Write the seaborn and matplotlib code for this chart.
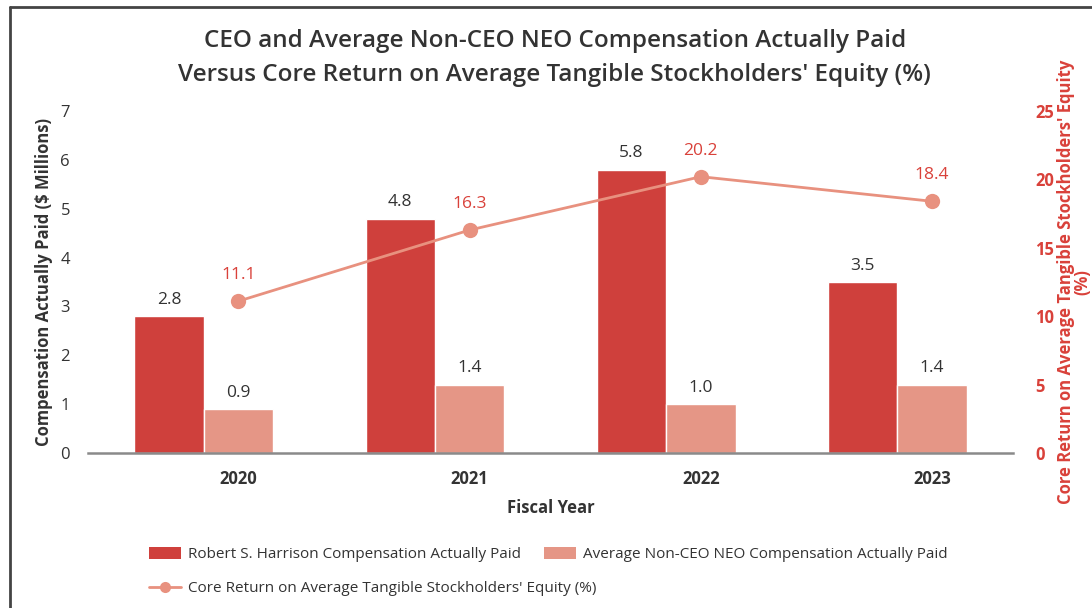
import numpy as np
import pandas as pd
import matplotlib
matplotlib.use("Agg")
import matplotlib.pyplot as plt
from matplotlib.lines import Line2D
from matplotlib.patches import Patch
import seaborn as sns

# Chart data
years = ["2020", "2021", "2022", "2023"]
ceo_cap = [2.8, 4.8, 5.8, 3.5]
neo_cap = [0.9, 1.4, 1.0, 1.4]
core_rotce = [11.1, 16.3, 20.2, 18.4]

ceo_name = "Robert S. Harrison Compensation Actually Paid"
neo_name = "Average Non-CEO NEO Compensation Actually Paid"
line_name = "Core Return on Average Tangible Stockholders' Equity (%)"

RED = "#cf403c"
SALMON = "#e59686"
LINE_C = "#e8917f"
TXT_RED = "#d9413a"
DARK = "#333333"

sns.set_theme(style="white")
plt.rcParams["font.family"] = ["Open Sans", "DejaVu Sans"]

df = pd.DataFrame({
    "Year": years * 2,
    "Value": ceo_cap + neo_cap,
    "Series": [ceo_name] * len(years) + [neo_name] * len(years),
})

fig = plt.figure(figsize=(10.92, 6.08), dpi=100)
ax = fig.add_axes([0.0806, 0.2549, 0.8471, 0.5625])

sns.barplot(data=df, x="Year", y="Value", hue="Series",
            hue_order=[ceo_name, neo_name], palette=[RED, SALMON],
            width=0.6, saturation=1, ax=ax, legend=False)

for cont in ax.containers:
    ax.bar_label(cont, fmt="%.1f", padding=6, color=DARK, fontsize=12.5)

ax.set_ylim(0, 7)
ax.set_xlim(-0.5, 3.5)
tick_pos = np.arange(len(years)) + 0.15
ax.set_xticks(tick_pos, years)
ax.set_yticks(range(0, 8))
ax.tick_params(axis="x", length=0, pad=12, labelsize=12, labelcolor=DARK)
ax.tick_params(axis="y", length=0, pad=13, labelsize=12, labelcolor=DARK)
for lbl in ax.get_xticklabels():
    lbl.set_fontweight("bold")
for s in ["top", "right", "left"]:
    ax.spines[s].set_visible(False)
ax.spines["bottom"].set_color("#8a8a8a")
ax.spines["bottom"].set_linewidth(1.8)
ax.set_ylabel("Compensation Actually Paid ($ Millions)", fontsize=12,
              fontweight="bold", color=DARK, labelpad=5)
ax.set_xlabel("Fiscal Year", fontsize=12, fontweight="bold", color=DARK,
              labelpad=8)

# Return on equity line on the secondary axis
ax2 = ax.twinx()
sns.lineplot(x=tick_pos, y=core_rotce, ax=ax2, color=LINE_C, linewidth=2,
             marker="o", markersize=11, markeredgewidth=0, legend=False)
for xp, v in zip(tick_pos, core_rotce):
    ax2.annotate(f"{v:.1f}", (xp, v), xytext=(0, 13), textcoords="offset points",
                 ha="center", va="bottom", color=TXT_RED, fontsize=12.5)
ax2.set_ylim(0, 25)
ax2.set_yticks(range(0, 26, 5))
ax2.tick_params(axis="y", length=0, pad=16, labelsize=12, labelcolor=TXT_RED)
for lbl in ax2.get_yticklabels():
    lbl.set_fontweight("bold")
for s in ax2.spines.values():
    s.set_visible(False)
ax2.set_ylabel("Core Return on Average Tangible Stockholders' Equity\n(%)",
               fontsize=12, fontweight="bold", color=TXT_RED, labelpad=2,
               linespacing=0.85)
ax2.set_xlim(-0.5, 3.5)

fig.suptitle("CEO and Average Non-CEO NEO Compensation Actually Paid\n"
             "Versus Core Return on Average Tangible Stockholders' Equity (%)",
             x=0.508, y=0.952, fontsize=17.5, fontweight="semibold", color=DARK,
             linespacing=1.55)

# Legend: bars on the first row, line on the second
bar_handles = [Patch(facecolor=RED, edgecolor="none"),
               Patch(facecolor=SALMON, edgecolor="none")]
fig.legend(bar_handles, [ceo_name, neo_name], ncol=2, loc="center left",
           bbox_to_anchor=(0.124, 0.088), frameon=False, fontsize=11,
           handlelength=2.1, handleheight=0.9, handletextpad=0.45,
           columnspacing=1.5, labelcolor=DARK)
line_handle = Line2D([], [], color=LINE_C, linewidth=2, marker="o",
                     markersize=8, markeredgewidth=0)
fig.legend([line_handle], [line_name], loc="center left",
           bbox_to_anchor=(0.124, 0.032), frameon=False, fontsize=11,
           handlelength=2.1, handletextpad=0.45, labelcolor=DARK)

# Frame lines along the top and left edges
fig.add_artist(Line2D([10 / 1092, 1], [1 - 7 / 608, 1 - 7 / 608],
                      transform=fig.transFigure, color="#444444", linewidth=2))
fig.add_artist(Line2D([10 / 1092, 10 / 1092], [0, 1 - 7 / 608],
                      transform=fig.transFigure, color="#444444", linewidth=2))

fig.savefig("out.png", dpi=100, facecolor="white")
